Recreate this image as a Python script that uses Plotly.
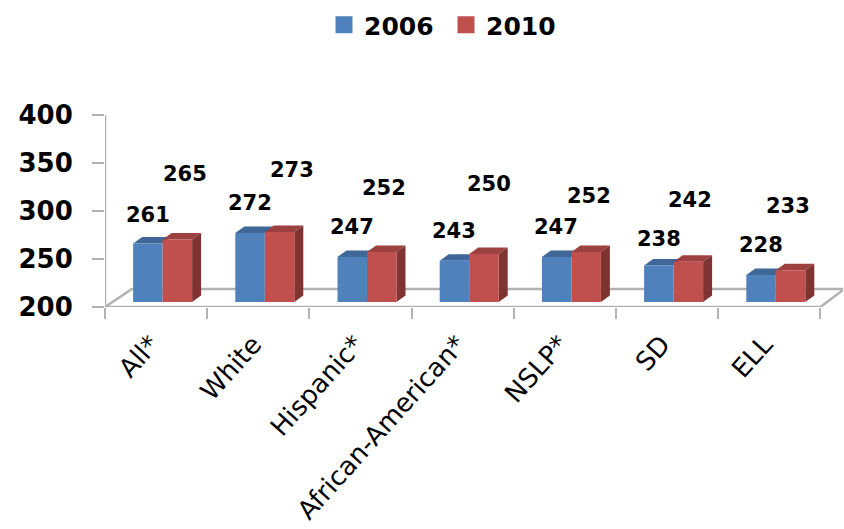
import plotly.graph_objects as go

# Average scores by student group
categories = ["All*", "White", "Hispanic*", "African-American*", "NSLP*", "SD", "ELL"]
scores_2006 = [261, 272, 247, 243, 247, 238, 228]
scores_2010 = [265, 273, 252, 250, 252, 242, 233]
value_ticks = [200, 250, 300, 350, 400]

# Label placement relative to the top of each bar, in pixels
lift_2006 = [28, 30, 30, 30, 30, 27, 30]
lift_2010 = [66, 62, 64, 70, 56, 62, 64]
shift_2006 = [-15, -15, -15, -15, -15, -15, -15]
shift_2010 = [22, 27, 17, 20, 18, 16, 12]

WIDTH, HEIGHT = 844, 529
BLUE, BLUE_TOP = "#4F81BD", "#3F6797"
RED, RED_TOP, RED_SIDE = "#C0504D", "#9C413F", "#7F3432"
GRID = "#B2B2B2"
FONT = "DejaVu Sans"

PX_PER_CAT = 102.2
PX_PER_VAL = 0.96
BAR_W = 29.5 / PX_PER_CAT
DEPTH_X = 9 / PX_PER_CAT
DEPTH_Y = 6.5 / PX_PER_VAL


def xdom(a, b):
    return [a / WIDTH, b / WIDTH]


def ydom(top, bottom):
    return [(HEIGHT - bottom) / HEIGHT, (HEIGHT - top) / HEIGHT]


def face(xs, ys, color, axes=("x2", "y2")):
    return go.Scatter(
        x=xs, y=ys, mode="lines", fill="toself", fillcolor=color, line=dict(width=0),
        xaxis=axes[0], yaxis=axes[1], showlegend=False, hoverinfo="skip", cliponaxis=False,
    )


fig = go.Figure()

# Floor of the 3-D box, on the front-plane axes
n = len(categories)
floor_dx = 24 / PX_PER_CAT
floor_dy = 18 / PX_PER_VAL
fig.add_trace(go.Scatter(
    x=[0, n, n + floor_dx, floor_dx * 1.12, 0],
    y=[200, 200, 200 + floor_dy, 200 + floor_dy, 200],
    mode="lines", line=dict(color=GRID, width=2.5), fill="toself", fillcolor="white",
    xaxis="x", yaxis="y", showlegend=False, hoverinfo="skip", cliponaxis=False,
))
fig.add_trace(go.Scatter(
    x=[0, 0], y=[200, 400], mode="lines", line=dict(color=GRID, width=2.5),
    xaxis="x", yaxis="y", showlegend=False, hoverinfo="skip", cliponaxis=False,
))

# Top and side faces of the bars
for i, (a, b) in enumerate(zip(scores_2006, scores_2010)):
    fig.add_trace(face(
        [i - BAR_W, i, i + DEPTH_X, i - BAR_W + DEPTH_X],
        [a, a, a + DEPTH_Y, a + DEPTH_Y], BLUE_TOP))
    fig.add_trace(face(
        [i, i + BAR_W, i + BAR_W + DEPTH_X, i + DEPTH_X],
        [b, b, b + DEPTH_Y, b + DEPTH_Y], RED_TOP))
    fig.add_trace(face(
        [i + BAR_W, i + BAR_W + DEPTH_X, i + BAR_W + DEPTH_X, i + BAR_W],
        [200, 200 + DEPTH_Y, b + DEPTH_Y, b], RED_SIDE))

# Front faces
positions = list(range(n))
fig.add_trace(go.Bar(x=positions, y=scores_2006, marker=dict(color=BLUE, line_width=0),
                     xaxis="x3", yaxis="y3", showlegend=False))
fig.add_trace(go.Bar(x=positions, y=scores_2010, marker=dict(color=RED, line_width=0),
                     xaxis="x3", yaxis="y3", showlegend=False))

# Legend entries with square swatches
for name, color in (("2006", BLUE), ("2010", RED)):
    fig.add_trace(go.Scatter(
        x=[None], y=[None], mode="markers", name=name,
        marker=dict(symbol="square", size=14, color=color, line=dict(color=color, width=3)),
        xaxis="x3", yaxis="y3",
    ))

annotations = []
for values, lifts, shifts in ((scores_2006, lift_2006, shift_2006),
                              (scores_2010, lift_2010, shift_2010)):
    for i, (v, lift, shift) in enumerate(zip(values, lifts, shifts)):
        annotations.append(dict(
            x=i, y=v, xref="x3", yref="y3", text=str(v), showarrow=False,
            xanchor="center", yanchor="middle", xshift=shift, yshift=lift,
            font=dict(family=FONT, size=21, weight="bold", color="black"),
        ))

bar_dom_x = xdom(111.5, 111.5 + 7 * PX_PER_CAT)
bar_dom_y = ydom(110, 302)
hidden = dict(visible=False, fixedrange=True)

fig.update_layout(
    width=WIDTH, height=HEIGHT, autosize=False,
    margin=dict(l=0, r=0, t=0, b=0, autoexpand=False),
    paper_bgcolor="white", plot_bgcolor="rgba(0,0,0,0)",
    barmode="group", bargap=1 - 2 * BAR_W, bargroupgap=0,
    annotations=annotations,
    font=dict(family=FONT, color="black"),
    legend=dict(
        orientation="h", x=324 / WIDTH, xanchor="left", y=1 - 25 / HEIGHT, yanchor="middle",
        font=dict(family=FONT, size=25, weight="bold", color="black"),
        itemsizing="trace", itemwidth=30, bgcolor="rgba(0,0,0,0)",
        entrywidth=77, entrywidthmode="pixels",
    ),
    xaxis=dict(
        domain=xdom(105, 843), range=[0, 738 / PX_PER_CAT], anchor="y",
        tickmode="array", tickvals=[i + 0.45 for i in positions], ticktext=categories,
        tickangle=-48, ticks="", ticklabelstandoff=16,
        tickfont=dict(family=FONT, size=26, color="black"),
        minor=dict(tickmode="array", tickvals=list(range(n + 1)), ticks="outside",
                   ticklen=11, tickwidth=2, tickcolor=GRID, showgrid=False),
        showgrid=False, zeroline=False, showline=False,
    ),
    yaxis=dict(
        domain=ydom(115, 307), range=[200, 400], anchor="x",
        tickmode="array", tickvals=value_ticks,
        ticks="outside", ticklen=12, tickwidth=2, tickcolor=GRID,
        ticklabelstandoff=14,
        tickfont=dict(family=FONT, size=26, weight="bold", color="black"),
        showgrid=False, zeroline=False, showline=False,
    ),
    xaxis2=dict(domain=bar_dom_x, range=[-0.5, 6.5], anchor="y2", **hidden),
    yaxis2=dict(domain=bar_dom_y, range=[200, 400], anchor="x2", **hidden),
    xaxis3=dict(domain=bar_dom_x, range=[-0.5, 6.5], anchor="y3", **hidden),
    yaxis3=dict(domain=bar_dom_y, range=[200, 400], anchor="x3", **hidden),
)

fig.write_html("out.html", config=dict(displayModeBar=False))
